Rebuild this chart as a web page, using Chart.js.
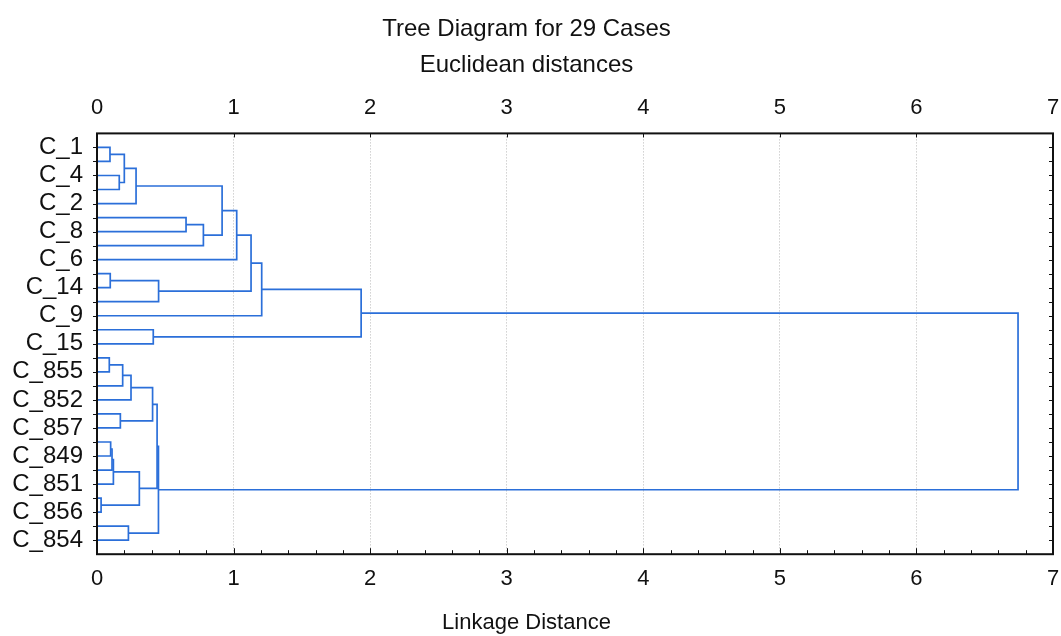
<!DOCTYPE html>
<html>
<head>
<meta charset="utf-8">
<script src="https://cdn.jsdelivr.net/npm/chart.js@4"></script>
<style>
  html, body { margin: 0; padding: 0; background: #fff; }
  #wrap { width: 1061px; height: 636px; }
</style>
</head>
<body>
<div id="wrap"><canvas id="myChart"></canvas></div>
<script>
// leaves top to bottom (only every other case is labelled in the picture)
const leafLabels = [
  "C_1", "", "C_4", "", "C_2", "", "C_8", "", "C_6", "", "C_14", "", "C_9", "", "C_15", "",
  "C_855", "", "C_852", "", "C_857", "", "C_849", "", "C_851", "", "C_856", "", "C_854",
];
// merges: ids < 29 are leaves, 29 + k is the cluster made by merge k
const mergeLeft = [0, 2, 29, 31, 5, 33, 32, 35, 9, 37, 36, 39, 13, 40, 15, 43, 44, 19, 45, 21, 48, 49, 25, 50, 47, 27, 53, 42];
const mergeRight = [1, 3, 30, 4, 6, 7, 34, 8, 10, 11, 38, 12, 14, 41, 16, 17, 18, 20, 46, 22, 23, 24, 26, 51, 52, 28, 54, 55];
const mergeHeight = [0.095, 0.163, 0.2, 0.286, 0.652, 0.779, 0.916, 1.023, 0.097, 0.451, 1.128, 1.206, 0.412, 1.934,
  0.09, 0.188, 0.249, 0.171, 0.407, 0.1, 0.11, 0.12, 0.03, 0.31, 0.44, 0.23, 0.45, 6.744];
const distanceTicks = [0, 1, 2, 3, 4, 5, 6, 7];

const FONT = "'Liberation Sans', Arial, sans-serif";
const LINE = "#2b6fd9";

// node position / height
const nodeY = leafLabels.map((_, i) => i + 1);
const nodeH = leafLabels.map(() => 0);
const datasets = [];
mergeHeight.forEach((h, k) => {
  const a = mergeLeft[k], b = mergeRight[k];
  datasets.push({
    data: [
      { x: nodeH[a], y: nodeY[a] },
      { x: h, y: nodeY[a] },
      { x: h, y: nodeY[b] },
      { x: nodeH[b], y: nodeY[b] },
    ],
    showLine: true,
    borderColor: LINE,
    borderWidth: 1.7,
    pointRadius: 0,
    tension: 0,
  });
  nodeY.push((nodeY[a] + nodeY[b]) / 2);
  nodeH.push(h);
});

// frame + small inward ticks
const frame = {
  id: "frame",
  afterDatasetsDraw(chart) {
    const { ctx, chartArea: a, scales } = chart;
    ctx.save();
    ctx.strokeStyle = "#111";
    ctx.lineWidth = 1;
    ctx.beginPath();
    for (let v = 0; v <= 7.001; v += 0.2) {
      const px = Math.round(scales.x.getPixelForValue(v)) + 0.5;
      ctx.moveTo(px, a.bottom); ctx.lineTo(px, a.bottom - 4);
    }
    distanceTicks.forEach(v => {
      const px = Math.round(scales.x.getPixelForValue(v)) + 0.5;
      ctx.moveTo(px, a.top); ctx.lineTo(px, a.top + 4);
      ctx.moveTo(px, a.bottom); ctx.lineTo(px, a.bottom - 6);
    });
    leafLabels.forEach((_, i) => {
      const py = Math.round(scales.y.getPixelForValue(i + 1)) + 0.5;
      ctx.moveTo(a.left, py); ctx.lineTo(a.left - 4, py);
      ctx.moveTo(a.right, py); ctx.lineTo(a.right - 4, py);
    });
    ctx.stroke();
    ctx.lineWidth = 2;
    ctx.strokeRect(a.left, a.top, a.right - a.left, a.bottom - a.top);
    ctx.restore();
  },
};

const xCommon = {
  type: "linear",
  min: 0,
  max: 7,
  afterBuildTicks: s => { s.ticks = distanceTicks.map(v => ({ value: v })); },
  afterFit: s => { s.paddingLeft = 0; s.paddingRight = 0; },
  grid: {
    color: ctx => (ctx.tick && ctx.tick.value > 0 && ctx.tick.value < 7 ? "#b8b8b8" : "rgba(0,0,0,0)"),
    lineWidth: 1,
    drawTicks: false,
  },
  border: { display: false, dash: [1, 2] },
  ticks: { color: "#111", font: { family: FONT, size: 22 }, padding: 12, maxRotation: 0 },
};

new Chart(document.getElementById("myChart"), {
  type: "scatter",
  data: { datasets },
  plugins: [frame],
  options: {
    responsive: true,
    maintainAspectRatio: false,
    animation: false,
    layout: { padding: { left: 0, right: 8, top: 0, bottom: 0 } },
    scales: {
      x: { ...xCommon, position: "bottom" },
      x2: { ...xCommon, position: "top", grid: { display: false, drawTicks: false } },
      y: {
        type: "linear",
        reverse: true,
        min: 0,
        max: 30,
        afterBuildTicks: s => { s.ticks = leafLabels.map((_, i) => ({ value: i + 1 })); },
        afterFit: s => { s.width = 97; },
        grid: { display: false, drawTicks: false },
        border: { display: false },
        ticks: {
          autoSkip: false,
          color: "#111",
          padding: 14,
          font: { family: FONT, size: 24 },
          callback: v => leafLabels[v - 1] || "",
        },
      },
    },
    plugins: {
      legend: { display: false },
      tooltip: { enabled: false },
      title: {
        display: true,
        text: ["Tree Diagram for 29 Cases", "Euclidean distances"],
        color: "#111",
        font: { family: FONT, size: 24, weight: "normal", lineHeight: 1.5 },
        padding: { top: 11, bottom: 0 },
      },
      subtitle: {
        display: true,
        position: "bottom",
        text: "Linkage Distance",
        color: "#111",
        font: { family: FONT, size: 22, weight: "normal" },
        padding: { top: 5, bottom: 0 },
      },
    },
  },
});
</script>
</body>
</html>
